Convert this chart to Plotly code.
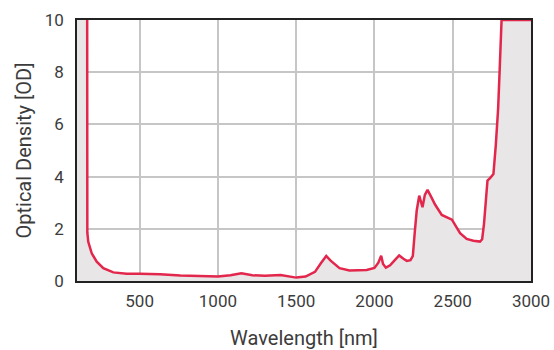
import plotly.graph_objects as go

# transmission spectrum (OD 10 = saturated / off scale)
wavelength_nm = [
    100, 165, 166, 172, 194, 226, 268, 332, 417, 500, 630, 760, 880, 1000,
    1080, 1150, 1220, 1300, 1400, 1500, 1560, 1620, 1660, 1692, 1720, 1777,
    1840, 1900, 1950, 2000, 2025, 2043, 2055, 2073, 2100, 2130, 2158, 2185,
    2207, 2230, 2245, 2258, 2270, 2286, 2300, 2307, 2322, 2339, 2360, 2388,
    2430, 2470, 2495, 2515, 2547, 2589, 2632, 2674, 2688, 2700, 2712, 2722,
    2740, 2760, 2775, 2790, 2800, 2812, 3000,
]
optical_density = [
    10, 10, 1.85, 1.5, 1.06, 0.74, 0.49, 0.33, 0.28, 0.28, 0.26, 0.21, 0.2, 0.17,
    0.22, 0.3, 0.22, 0.2, 0.23, 0.13, 0.17, 0.35, 0.7, 0.96, 0.78, 0.49,
    0.4, 0.4, 0.42, 0.5, 0.7, 0.97, 0.65, 0.51, 0.6, 0.8, 0.98, 0.85,
    0.77, 0.8, 0.95, 1.9, 2.7, 3.27, 2.9, 2.83, 3.3, 3.49, 3.25, 2.92,
    2.53, 2.42, 2.35, 2.15, 1.83, 1.61, 1.54, 1.51, 1.6, 2.2, 3.0, 3.85,
    3.95, 4.1, 5.2, 6.6, 8.1, 10, 10,
]

x_ticks = [500, 1000, 1500, 2000, 2500, 3000]
y_ticks = [0, 2, 4, 6, 8, 10]

LINE_RED = '#e3264c'
FILL_GREY = '#e8e6e6'
TEXT = '#3c3c3c'
FONT = 'Roboto, sans-serif'

fig = go.Figure()

fig.add_trace(go.Scatter(
    x=wavelength_nm, y=optical_density, mode='lines',
    line=dict(width=0), fill='tozeroy', fillcolor=FILL_GREY,
    hoverinfo='skip', showlegend=False,
))
fig.add_trace(go.Scatter(
    x=wavelength_nm[1:], y=optical_density[1:], mode='lines',
    line=dict(color=LINE_RED, width=2.5), showlegend=False,
))

axis_common = dict(
    showgrid=True, gridcolor='#c6c6c6', gridwidth=1.5,
    showline=True, linecolor='#222222', linewidth=1.5, mirror=True,
    ticks='', zeroline=False, automargin=False,
    tickfont=dict(family=FONT, size=17, color=TEXT),
)

fig.update_xaxes(
    range=[100, 3000], tickvals=x_ticks, ticklabelstandoff=4,
    title=dict(text='Wavelength [nm]', font=dict(family=FONT, size=20, color=TEXT),
               standoff=22),
    **axis_common,
)
fig.update_yaxes(
    range=[0, 10], tickvals=y_ticks, ticklabelstandoff=8,
    title=dict(text='Optical Density [OD]', font=dict(family=FONT, size=20, color=TEXT),
               standoff=8),
    **axis_common,
)

fig.update_layout(
    width=554, height=350,
    margin=dict(l=77, r=23, t=20, b=69),
    paper_bgcolor='white', plot_bgcolor='white',
)

# drop the browser's default 8px body margin so the figure sits at the corner
fig.write_html("out.html", config={'displayModeBar': False},
               post_script="document.body.style.margin='0';")
